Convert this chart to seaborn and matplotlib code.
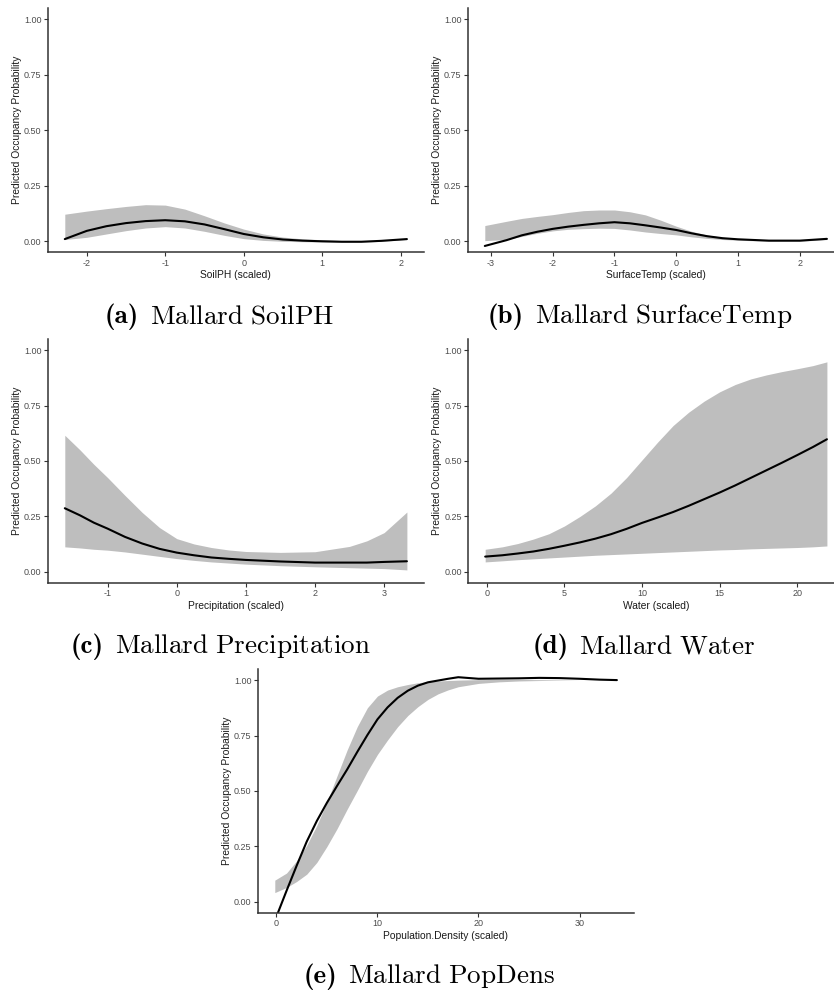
import numpy as np
import pandas as pd
import matplotlib
matplotlib.use("Agg")
import matplotlib.pyplot as plt
import seaborn as sns

# ---- SoilPH ----
soil_x = [-2.28, -2.0, -1.75, -1.5, -1.25, -1.0, -0.75, -0.5, -0.25, 0.0, 0.25, 0.5, 0.75, 1.0, 1.25, 1.5, 1.75, 2.08]
soil_fit = [0.010, 0.047, 0.068, 0.082, 0.091, 0.095, 0.090, 0.076, 0.055, 0.033, 0.018, 0.008, 0.003, 0.000, -0.002, -0.002, 0.002, 0.010]
soil_lo = [0.008, 0.018, 0.033, 0.048, 0.060, 0.066, 0.060, 0.045, 0.027, 0.012, 0.004, 0.000, -0.002, -0.003, -0.004, -0.004, 0.000, 0.008]
soil_hi = [0.122, 0.136, 0.147, 0.157, 0.165, 0.163, 0.145, 0.115, 0.083, 0.055, 0.033, 0.019, 0.011, 0.007, 0.003, 0.002, 0.005, 0.013]

# ---- SurfaceTemp ----
temp_x = [-3.10, -2.75, -2.5, -2.25, -2.0, -1.75, -1.5, -1.25, -1.0, -0.75, -0.5, -0.25, 0.0, 0.25, 0.5, 0.75, 1.0, 1.5, 2.0, 2.44]
temp_fit = [-0.021, 0.005, 0.027, 0.043, 0.056, 0.066, 0.074, 0.081, 0.086, 0.081, 0.072, 0.062, 0.051, 0.036, 0.023, 0.014, 0.009, 0.003, 0.003, 0.011]
temp_lo = [0.003, 0.008, 0.022, 0.036, 0.047, 0.054, 0.057, 0.059, 0.058, 0.051, 0.042, 0.035, 0.029, 0.020, 0.013, 0.008, 0.005, 0.000, 0.000, 0.008]
temp_hi = [0.071, 0.090, 0.103, 0.112, 0.120, 0.130, 0.138, 0.141, 0.141, 0.133, 0.119, 0.095, 0.068, 0.045, 0.028, 0.018, 0.012, 0.006, 0.005, 0.013]

# ---- Precipitation ----
prec_x = [-1.62, -1.4, -1.2, -1.0, -0.75, -0.5, -0.25, 0.0, 0.25, 0.5, 0.75, 1.0, 1.5, 2.0, 2.5, 2.75, 3.0, 3.33]
prec_fit = [0.287, 0.255, 0.222, 0.195, 0.158, 0.128, 0.104, 0.087, 0.075, 0.065, 0.059, 0.054, 0.047, 0.042, 0.042, 0.042, 0.045, 0.048]
prec_lo = [0.113, 0.108, 0.102, 0.098, 0.090, 0.080, 0.070, 0.060, 0.052, 0.045, 0.040, 0.035, 0.028, 0.023, 0.019, 0.017, 0.015, 0.009]
prec_hi = [0.616, 0.550, 0.485, 0.425, 0.345, 0.268, 0.200, 0.150, 0.126, 0.110, 0.099, 0.092, 0.088, 0.091, 0.115, 0.140, 0.177, 0.270]

# ---- Water ----
water_x = [-0.1, 1, 2, 3, 4, 5, 6, 7, 8, 9, 10, 11, 12, 13, 14, 15, 16, 17, 18, 19, 20, 21, 21.9]
water_fit = [0.069, 0.075, 0.083, 0.092, 0.104, 0.118, 0.133, 0.150, 0.170, 0.194, 0.221, 0.245, 0.270, 0.298, 0.328, 0.358, 0.390, 0.424, 0.458, 0.492, 0.527, 0.563, 0.598]
water_lo = [0.045, 0.050, 0.055, 0.059, 0.063, 0.067, 0.071, 0.075, 0.078, 0.081, 0.084, 0.087, 0.090, 0.093, 0.096, 0.099, 0.101, 0.104, 0.106, 0.108, 0.110, 0.113, 0.117]
water_hi = [0.102, 0.113, 0.128, 0.148, 0.172, 0.207, 0.250, 0.298, 0.355, 0.425, 0.505, 0.585, 0.660, 0.720, 0.770, 0.812, 0.845, 0.870, 0.888, 0.903, 0.916, 0.930, 0.947]

# ---- Population density ----
pop_x = [-0.16, 1, 2, 3, 4, 5, 6, 7, 8, 9, 10, 11, 12, 13, 14, 15, 16, 17, 18, 20, 22, 24, 26, 28, 30, 32, 33.7]
pop_fit = [-0.085, 0.050, 0.163, 0.272, 0.365, 0.447, 0.523, 0.597, 0.676, 0.752, 0.823, 0.877, 0.920, 0.952, 0.975, 0.990, 0.998, 1.006, 1.013, 1.006, 1.007, 1.008, 1.010, 1.009, 1.006, 1.002, 1.000]
pop_lo = [0.042, 0.065, 0.092, 0.125, 0.178, 0.250, 0.330, 0.418, 0.502, 0.588, 0.665, 0.730, 0.790, 0.840, 0.880, 0.913, 0.938, 0.956, 0.970, 0.985, 0.992, 0.996, 0.998, 0.999, 1.000, 1.000, 1.000]
pop_hi = [0.098, 0.130, 0.185, 0.255, 0.345, 0.450, 0.568, 0.685, 0.790, 0.875, 0.928, 0.955, 0.970, 0.980, 0.988, 0.993, 0.996, 0.998, 1.000, 1.002, 1.003, 1.003, 1.002, 1.001, 1.000, 1.000, 1.000]

y_ticks = [0.0, 0.25, 0.5, 0.75, 1.0]
y_label = "Predicted Occupancy Probability"

sns.set_theme(style="ticks")
plt.rcParams.update({
    "font.family": ["Liberation Sans", "DejaVu Sans"],
    "axes.unicode_minus": False,
    "mathtext.fontset": "cm",
})

W, H = 834, 991
fig = plt.figure(figsize=(W / 100, H / 100), dpi=100)


def add_panel(left, right, top, bottom):
    return fig.add_axes([left / W, 1 - bottom / H, (right - left) / W, (bottom - top) / H])


def draw(ax, x, fit, lo, hi, xticks, xlabel):
    df = pd.DataFrame({"x": x, "fit": fit, "lo": lo, "hi": hi})
    ax.fill_between(df["x"], df["lo"], df["hi"], color="#BEBEBE", lw=0, zorder=1)
    sns.lineplot(data=df, x="x", y="fit", ax=ax, color="black", lw=1.5, zorder=2)
    ax.margins(x=0.05)
    ax.set_ylim(-0.05, 1.05)
    ax.set_yticks(y_ticks)
    ax.set_yticklabels([f"{v:.2f}" for v in y_ticks])
    ax.set_xticks(xticks)
    ax.set_xticklabels([str(v) for v in xticks])
    ax.set_xlabel(xlabel, fontsize=7.4, color="#1a1a1a", labelpad=2)
    ax.set_ylabel(y_label, fontsize=7.4, color="#1a1a1a", labelpad=1.5)
    ax.tick_params(axis="both", labelsize=6.5, labelcolor="#4D4D4D", color="#333333",
                   length=3, width=0.8, pad=1.5)
    for side in ("top", "right"):
        ax.spines[side].set_visible(False)
    for side in ("left", "bottom"):
        ax.spines[side].set_color("#333333")
        ax.spines[side].set_linewidth(1.1)
    ax.set_facecolor("white")


ax_a = add_panel(47.7, 424, 8.2, 252.4)
draw(ax_a, soil_x, soil_fit, soil_lo, soil_hi, [-2, -1, 0, 1, 2], "SoilPH (scaled)")

ax_b = add_panel(467.7, 844, 8.2, 252.4)
draw(ax_b, temp_x, temp_fit, temp_lo, temp_hi, [-3, -2, -1, 0, 1, 2], "SurfaceTemp (scaled)")

ax_c = add_panel(47.7, 424, 339, 583)
draw(ax_c, prec_x, prec_fit, prec_lo, prec_hi, [-1, 0, 1, 2, 3], "Precipitation (scaled)")

ax_d = add_panel(468.1, 844, 339, 583)
draw(ax_d, water_x, water_fit, water_lo, water_hi, [0, 5, 10, 15, 20], "Water (scaled)")

ax_e = add_panel(257.7, 634, 669, 913)
draw(ax_e, pop_x, pop_fit, pop_lo, pop_hi, [0, 10, 20, 30], "Population.Density (scaled)")

# Sub-captions: bold tag followed by the roman title, centred under each panel
captions = [
    (219, 323, "(a)", "Mallard SoilPH"),
    (640, 323, "(b)", "Mallard SurfaceTemp"),
    (221, 653, "(c)", "Mallard Precipitation"),
    (644, 653, "(d)", "Mallard Water"),
    (429, 983, "(e)", "Mallard PopDens"),
]
cap_size = 19.5
gap_px = 11
renderer = fig.canvas.get_renderer()
for cx, cy, tag, title in captions:
    t_tag = fig.text(0, 1 - cy / H, tag, fontfamily="cmb10", fontsize=cap_size,
                     ha="left", va="baseline", color="black")
    body = r"$\mathrm{" + title.replace(" ", r"\ ") + "}$"
    t_body = fig.text(0, 1 - cy / H, body, fontsize=cap_size,
                      ha="left", va="baseline", color="black")
    w_tag = t_tag.get_window_extent(renderer).width
    w_body = t_body.get_window_extent(renderer).width
    x0 = cx - (w_tag + gap_px + w_body) / 2
    t_tag.set_x(x0 / W)
    t_body.set_x((x0 + w_tag + gap_px) / W)

fig.savefig("out.png", dpi=100, facecolor="white")
